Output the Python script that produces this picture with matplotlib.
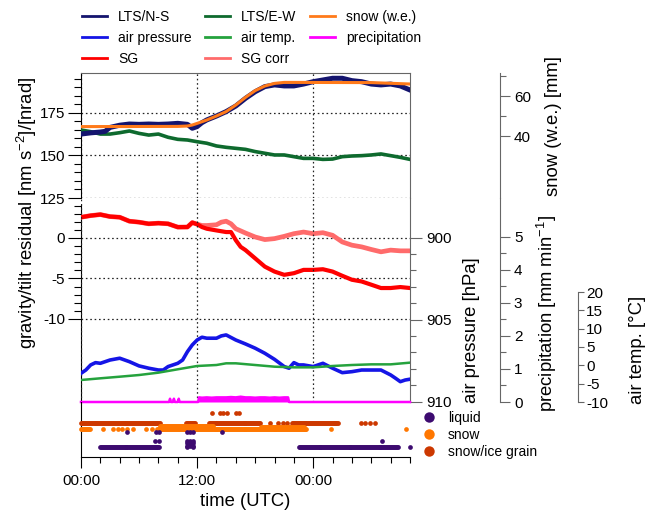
import numpy as np
import matplotlib
matplotlib.use("Agg")
import matplotlib.pyplot as plt
from matplotlib.lines import Line2D
from matplotlib.ticker import FixedLocator

plt.rcParams['font.family'] = ['Liberation Sans', 'DejaVu Sans']
plt.rcParams['mathtext.default'] = 'regular'
plt.rcParams['axes.unicode_minus'] = False

# ------------------------------------------------------------------ data
# time in hours since 00:00 UTC of day 1
ns_t = [0, 1, 2, 2.5, 3, 4, 5, 6, 7, 8, 9, 10, 11, 11.5, 12, 12.5, 13, 14, 15, 16, 17, 18,
        19, 20, 21, 22, 23, 24, 25, 26, 27, 28, 29, 30, 31, 32, 33, 34]
ns_v = [162.6, 163.3, 163.8, 164.2, 166.5, 167.8, 168.5, 168.3, 168.5, 168.3, 168.5, 168.9,
        168.3, 166.0, 167.0, 169.3, 170.9, 173.2, 175.8, 179.1, 183.6, 187.5, 190.5, 191.5,
        190.9, 190.9, 192.0, 193.4, 194.4, 195.4, 195.4, 194.0, 193.4, 192.0, 191.5, 192.0,
        190.9, 188.5]

ew_t = list(range(0, 35))
ew_v = [165.0, 164.0, 162.6, 162.6, 163.4, 164.4, 163.0, 162.0, 162.6, 160.7, 159.5, 159.1,
        158.1, 157.2, 155.6, 154.8, 154.2, 153.6, 152.3, 151.3, 150.3, 150.3, 149.3, 148.3,
        148.3, 147.7, 147.9, 149.3, 149.7, 149.9, 150.3, 150.9, 149.9, 148.9, 147.7]

snow_t = [0, 10, 11, 11.5, 12, 13, 14, 15, 16, 17, 18, 19, 20, 21, 22, 30, 34]
snow_v = [44.7, 44.8, 45.0, 45.5, 46.3, 48.0, 50.0, 52.2, 55.5, 59.3, 62.7, 65.0, 66.3,
          66.8, 66.8, 66.7, 66.0]

sg_t = [0, 1, 2, 3, 4, 5, 6, 7, 8, 9, 10, 11, 11.5, 12, 12.5, 13, 14, 15, 15.5, 16, 16.5,
        17, 18, 19, 20, 21, 22, 23, 24, 25, 26, 27, 28, 29, 30, 31, 32, 33, 34]
sg_v = [2.56, 2.76, 2.89, 2.64, 2.56, 2.07, 1.95, 1.75, 1.83, 1.75, 1.34, 1.35, 1.90, 1.70,
        1.35, 1.14, 0.93, 0.73, 0.73, -0.28, -1.10, -1.50, -2.52, -3.54, -4.15, -4.55,
        -4.35, -3.94, -3.94, -3.86, -4.15, -4.67, -5.16, -5.37, -5.77, -6.18, -6.18, -6.06,
        -6.18]

sgc_t = [0, 1, 2, 3, 4, 5, 6, 7, 8, 9, 10, 11, 11.5, 12, 12.5, 13, 14, 14.5, 15, 15.5, 16,
         17, 18, 19, 20, 21, 22, 23, 24, 25, 26, 27, 28, 29, 30, 31, 32, 33, 34]
sgc_v = [2.56, 2.76, 2.89, 2.64, 2.56, 2.07, 1.95, 1.75, 1.83, 1.75, 1.34, 1.35, 1.90, 1.70,
         1.54, 1.54, 1.63, 1.95, 2.07, 1.75, 1.14, 0.61, 0.12, -0.20, -0.08, 0.20, 0.53,
         0.73, 0.53, 0.65, 0.33, -0.49, -0.89, -1.10, -1.42, -1.71, -1.50, -1.59, -1.59]

pres_t = [0, 0.5, 1, 1.5, 2, 3, 4, 5, 6, 7, 8, 8.5, 9, 10, 10.5, 11, 11.5, 12, 12.5, 13, 14,
          14.5, 15, 16, 17, 18, 19, 20, 21, 21.5, 22, 22.5, 23, 24, 25, 26, 27, 28, 29, 30,
          31, 32, 32.5, 33, 33.5, 34]
pres_v = [908.27, 908.07, 907.76, 907.62, 907.66, 907.46, 907.35, 907.56, 907.82, 907.96,
          908.07, 908.07, 907.86, 907.66, 907.46, 906.95, 906.54, 906.24, 906.07, 906.13,
          906.13, 905.99, 905.93, 906.24, 906.48, 906.74, 907.05, 907.42, 907.86, 907.96,
          907.62, 907.76, 907.76, 907.86, 907.66, 907.96, 908.23, 908.17, 908.07, 908.07,
          908.07, 908.37, 908.57, 908.78, 908.68, 908.63]

temp_t = [0, 2, 4, 6, 8, 10, 12, 14, 15, 16, 18, 20, 22, 24, 26, 28, 30, 32, 34]
temp_v = [-4.0, -3.54, -3.1, -2.64, -2.0, -1.08, -0.18, 0.09, 0.55, 0.55, 0.09, -0.37,
          -0.55, -0.55, -0.18, 0.09, 0.27, 0.27, 0.73]

precip_t = [0.0, 9.1, 9.2, 9.3, 9.5, 9.6, 9.7, 10.0, 10.1, 10.2, 12.1, 12.2, 12.5, 13.0,
            13.5, 14.0, 14.5, 15.0, 15.5, 16.0, 16.5, 17.0, 17.5, 18.0, 18.5, 19.0, 19.5,
            20.0, 20.5, 21.0, 21.4, 21.5, 34.0]
precip_v = [0.0, 0.0, 0.10, 0.0, 0.0, 0.10, 0.0, 0.0, 0.10, 0.0, 0.0, 0.14, 0.13, 0.14,
            0.13, 0.14, 0.14, 0.14, 0.15, 0.14, 0.16, 0.14, 0.14, 0.13, 0.14, 0.14, 0.13,
            0.14, 0.13, 0.14, 0.14, 0.0, 0.0]

# precipitation type observations (6-min reports): runs (start, end, level) and single reports
obs_step = 0.1
liquid_runs = [(2.0, 8.1, 9.7), (22.55, 32.8, 9.7)]
liquid_pts_t = [4.72, 7.76, 8.1, 7.66, 8.1, 11.0, 11.3, 11.6, 11.0, 11.3, 11.6, 11.0, 11.3,
                11.6, 11.0, 11.3, 11.6, 11.0, 11.6, 14.55, 31.1, 33.97]
liquid_pts_l = [24.7, 25.3, 25.3, 16.3, 16.3, 25.3, 25.3, 25.3, 16.3, 16.3, 16.3, 13.7, 13.7,
                13.7, 11.0, 11.0, 11.0, 9.7, 9.7, 25.3, 16.3, 9.7]
snow_runs = [(0.0, 0.9, 28.3), (8.0, 23.3, 28.3), (8.2, 13.6, 31.0), (18.6, 23.0, 30.5)]
snow_pts_t = [2.3, 3.35, 3.86, 4.2, 4.72, 5.34, 6.72, 7.3, 7.83, 25.8, 33.6]
snow_pts_l = [28.3] * 11
grain_runs = [(0.0, 8.2, 33.7), (10.9, 11.8, 33.7), (13.2, 18.5, 33.7), (21.8, 26.6, 33.7)]
grain_pts_t = [19.55, 20.4, 20.9, 21.3, 28.9, 29.4, 29.9, 30.4,
               13.5, 14.4, 14.7, 15.1, 16.0, 16.3]
grain_pts_l = [33.7] * 8 + [44.3] * 6

xtick_pos = [0, 12, 24]
xtick_lab = ['00:00', '12:00', '00:00']

# ------------------------------------------------------------------ colours
C_NS, C_EW, C_SNOW = '#14146e', '#0e6a2e', '#ff7a1a'
C_PRES, C_TEMP, C_PREC = '#1515e6', '#25a23d', '#ff00ff'
C_SG, C_SGC = '#ff0000', '#ff6b6b'
C_LIQ, C_SNOWP, C_GRAIN = '#3d0b70', '#ff7700', '#cc3800'
GRAY = '#666666'
DOT = (0, (1.3, 2.2))

# ------------------------------------------------------------------ layout
W, H = 654, 512
fig = plt.figure(figsize=(W / 100, H / 100), dpi=100)
XL, XR = 81, 410


def add_px(x0, y0, x1, y1):
    ax = fig.add_axes([x0 / W, 1 - y1 / H, (x1 - x0) / W, (y1 - y0) / H])
    ax.patch.set_alpha(0)
    for s in ax.spines.values():
        s.set_visible(False)
    ax.set_xlim(0, 34)
    ax.xaxis.set_major_locator(FixedLocator(xtick_pos))
    ax.tick_params(axis='x', which='both', bottom=False, top=False, labelbottom=False)
    ax.tick_params(axis='y', which='both', left=False, right=False,
                   labelleft=False, labelright=False)
    return ax


ax_top = add_px(XL, 73, XR, 198)
ax_snow = add_px(XL, 73, XR, 198)
ax_sg = add_px(XL, 205, XR, 402)
ax_pres = add_px(XL, 198, XR, 402)
ax_prec = add_px(XL, 198, XR, 402)
ax_temp = add_px(XL, 292, XR, 402)
ax_type = add_px(XL, 402, XR, 457)

SPINE_X2 = (500 - XL) / (XR - XL)
SPINE_X3 = (578 - XL) / (XR - XL)

# --- top panel (tilt)
ax_top.set_ylim(125, 198.5)
ax_top.spines['left'].set_visible(True)
ax_top.spines['left'].set_color('black')
for s in ('top', 'right'):
    ax_top.spines[s].set_visible(True)
    ax_top.spines[s].set_color(GRAY)
ax_top.yaxis.set_major_locator(FixedLocator([125, 150, 175]))
ax_top.yaxis.set_minor_locator(FixedLocator(list(range(130, 200, 5))))
ax_top.tick_params(axis='y', which='major', left=True, labelleft=True, direction='out',
                   length=9.5, width=0.8, labelsize=11, pad=2)
ax_top.tick_params(axis='y', which='minor', left=True, direction='out', length=5, width=0.8)
ax_top.grid(axis='both', which='major', ls=DOT, color='#222222', lw=0.9)
ax_top.plot(ew_t, ew_v, color=C_EW, lw=2.6, zorder=3)
ax_top.plot(ns_t, ns_v, color=C_NS, lw=3.6, zorder=4)

# --- snow (w.e.) axis
ax_snow.set_ylim(9, 71.5)
ax_snow.spines['right'].set_visible(True)
ax_snow.spines['right'].set_color(GRAY)
ax_snow.spines['right'].set_position(('axes', SPINE_X2))
ax_snow.yaxis.set_ticks_position('right')
ax_snow.yaxis.set_major_locator(FixedLocator([40, 60]))
ax_snow.yaxis.set_minor_locator(FixedLocator([50, 70]))
ax_snow.tick_params(axis='y', which='major', right=True, labelright=True, direction='out',
                    length=7, width=0.8, color=GRAY, labelsize=11, pad=3)
ax_snow.tick_params(axis='y', which='minor', right=True, direction='out', length=4,
                    width=0.8, color=GRAY)
ax_snow.plot(snow_t, snow_v, color=C_SNOW, lw=2.2, zorder=5)

# --- SG panel
ax_sg.set_ylim(-20.25, 4.07)
ax_sg.spines['left'].set_visible(True)
ax_sg.spines['left'].set_color('black')
ax_sg.yaxis.set_major_locator(FixedLocator([-10, -5, 0]))
ax_sg.yaxis.set_minor_locator(FixedLocator(list(range(-10, 5))))
ax_sg.tick_params(axis='y', which='major', left=True, labelleft=True, direction='out',
                  length=9.5, width=0.8, labelsize=11, pad=2)
ax_sg.tick_params(axis='y', which='minor', left=True, direction='out', length=5, width=0.8)
ax_sg.grid(axis='y', which='major', ls=DOT, color='#222222', lw=0.9)
ax_sg.plot(sgc_t, sgc_v, color=C_SGC, lw=3.4, zorder=3)
ax_sg.plot(sg_t, sg_v, color=C_SG, lw=3.0, zorder=4)

# --- air pressure axis
ax_pres.set_ylim(910.02, 897.58)
ax_pres.spines['right'].set_visible(True)
ax_pres.spines['right'].set_color(GRAY)
ax_pres.yaxis.set_ticks_position('right')
ax_pres.yaxis.set_major_locator(FixedLocator([900, 905, 910]))
ax_pres.yaxis.set_minor_locator(FixedLocator(list(range(900, 911))))
ax_pres.tick_params(axis='y', which='major', right=True, labelright=True, direction='out',
                    length=8.5, width=0.8, color=GRAY, labelsize=11, pad=3)
ax_pres.tick_params(axis='y', which='minor', right=True, direction='out', length=4.5,
                    width=0.8, color=GRAY)
ax_pres.grid(axis='x', which='major', ls=DOT, color='#222222', lw=0.9)
ax_pres.plot(pres_t, pres_v, color=C_PRES, lw=2.6, zorder=4)

# --- precipitation axis
ax_prec.set_ylim(0, 6.18)
ax_prec.spines['right'].set_visible(True)
ax_prec.spines['right'].set_color(GRAY)
ax_prec.spines['right'].set_position(('axes', SPINE_X2))
ax_prec.yaxis.set_ticks_position('right')
ax_prec.yaxis.set_major_locator(FixedLocator([0, 1, 2, 3, 4, 5]))
ax_prec.yaxis.set_minor_locator(FixedLocator([0.5, 1.5, 2.5, 3.5, 4.5]))
ax_prec.tick_params(axis='y', which='major', right=True, labelright=True, direction='out',
                    length=7, width=0.8, color=GRAY, labelsize=11, pad=3)
ax_prec.tick_params(axis='y', which='minor', right=True, direction='out', length=4,
                    width=0.8, color=GRAY)
ax_prec.fill_between(precip_t, 0, precip_v, color=C_PREC, lw=0, zorder=4)
ax_prec.plot(precip_t, precip_v, color=C_PREC, lw=1.8, zorder=5, clip_on=False)

# --- air temperature axis
ax_temp.set_ylim(-10, 20)
ax_temp.spines['right'].set_visible(True)
ax_temp.spines['right'].set_color(GRAY)
ax_temp.spines['right'].set_position(('axes', SPINE_X3))
ax_temp.yaxis.set_ticks_position('right')
ax_temp.yaxis.set_major_locator(FixedLocator([-10, -5, 0, 5, 10, 15, 20]))
ax_temp.tick_params(axis='y', which='major', right=True, labelright=True, direction='out',
                    length=4, width=0.8, color=GRAY, labelsize=11, pad=2)
ax_temp.plot(temp_t, temp_v, color=C_TEMP, lw=1.8, zorder=4)

# --- precipitation type panel
ax_type.set_ylim(0, 55)
for s in ('left', 'bottom'):
    ax_type.spines[s].set_visible(True)
    ax_type.spines[s].set_color('black')
ax_type.xaxis.set_minor_locator(FixedLocator(list(range(0, 35, 2))))
ax_type.set_xticks(xtick_pos)
ax_type.set_xticklabels(xtick_lab)
ax_type.tick_params(axis='x', which='major', bottom=True, labelbottom=True, direction='out',
                    length=8, width=0.8, labelsize=11, pad=4)
ax_type.tick_params(axis='x', which='minor', bottom=True, direction='out', length=4.3,
                    width=0.8)


def expand(runs, pts_t, pts_l):
    tt, ll = [], []
    for a, b, lev in runs:
        seg = np.arange(a, b + 1e-9, obs_step)
        tt.extend(seg)
        ll.extend([lev] * len(seg))
    tt.extend(pts_t)
    ll.extend(pts_l)
    return tt, ll


MS = 3.4
gt, gl = expand(grain_runs, grain_pts_t, grain_pts_l)
ax_type.plot(gt, gl, 'o', color=C_GRAIN, ms=MS, mew=0, clip_on=False, zorder=3)
st, sl = expand(snow_runs, snow_pts_t, snow_pts_l)
ax_type.plot(st, sl, 'o', color=C_SNOWP, ms=MS, mew=0, clip_on=False, zorder=4)
lt, ll = expand(liquid_runs, liquid_pts_t, liquid_pts_l)
ax_type.plot(lt, ll, 'o', color=C_LIQ, ms=MS, mew=0, clip_on=False, zorder=5)

# ------------------------------------------------------------------ labels
LAB = 13.3
fig.text(27 / W, 1 - 213 / H, 'gravity/tilt residual [nm s$^{-2}$]/[nrad]', rotation=90,
         ha='center', va='center', fontsize=LAB)
fig.text(472 / W, 1 - 330 / H, 'air pressure [hPa]', rotation=90, ha='center',
         va='center', fontsize=LAB)
fig.text(553 / W, 1 - 126 / H, 'snow (w.e.) [mm]', rotation=90, ha='center', va='center',
         fontsize=LAB)
fig.text(547 / W, 1 - 313 / H, 'precipitation [mm min$^{-1}$]', rotation=90, ha='center',
         va='center', fontsize=LAB)
fig.text(638 / W, 1 - 350 / H, 'air temp. [°C]', rotation=90, ha='center', va='center',
         fontsize=LAB)
fig.text(245.5 / W, 1 - 502 / H, 'time (UTC)', ha='center', va='center', fontsize=LAB)

# ------------------------------------------------------------------ legends
handles = [Line2D([], [], color=C_NS, lw=2), Line2D([], [], color=C_PRES, lw=2),
           Line2D([], [], color=C_SG, lw=2), Line2D([], [], color=C_EW, lw=2),
           Line2D([], [], color=C_TEMP, lw=2), Line2D([], [], color=C_SGC, lw=2),
           Line2D([], [], color=C_SNOW, lw=2), Line2D([], [], color=C_PREC, lw=2)]
labels = ['LTS/N-S', 'air pressure', 'SG', 'LTS/E-W', 'air temp.', 'SG corr',
          'snow (w.e.)', 'precipitation']
fig.legend(handles, labels, ncol=3, loc='upper left', bbox_to_anchor=(82 / W, 1 - 10 / H),
           frameon=False, fontsize=10, handlelength=1.8, handletextpad=0.8,
           columnspacing=0.95, labelspacing=0.5, borderpad=0, borderaxespad=0)

type_handles = [Line2D([], [], ls='none', marker='o', color=C_LIQ, ms=7.5, mew=0),
                Line2D([], [], ls='none', marker='o', color=C_SNOWP, ms=7.5, mew=0),
                Line2D([], [], ls='none', marker='o', color=C_GRAIN, ms=7.5, mew=0)]
fig.legend(type_handles, ['liquid', 'snow', 'snow/ice grain'], loc='upper left',
           bbox_to_anchor=(422 / W, 1 - 411 / H), frameon=False, fontsize=10,
           handlelength=1.0, handletextpad=0.86, labelspacing=0.22, borderpad=0,
           borderaxespad=0)

fig.savefig('out.png', dpi=100)
